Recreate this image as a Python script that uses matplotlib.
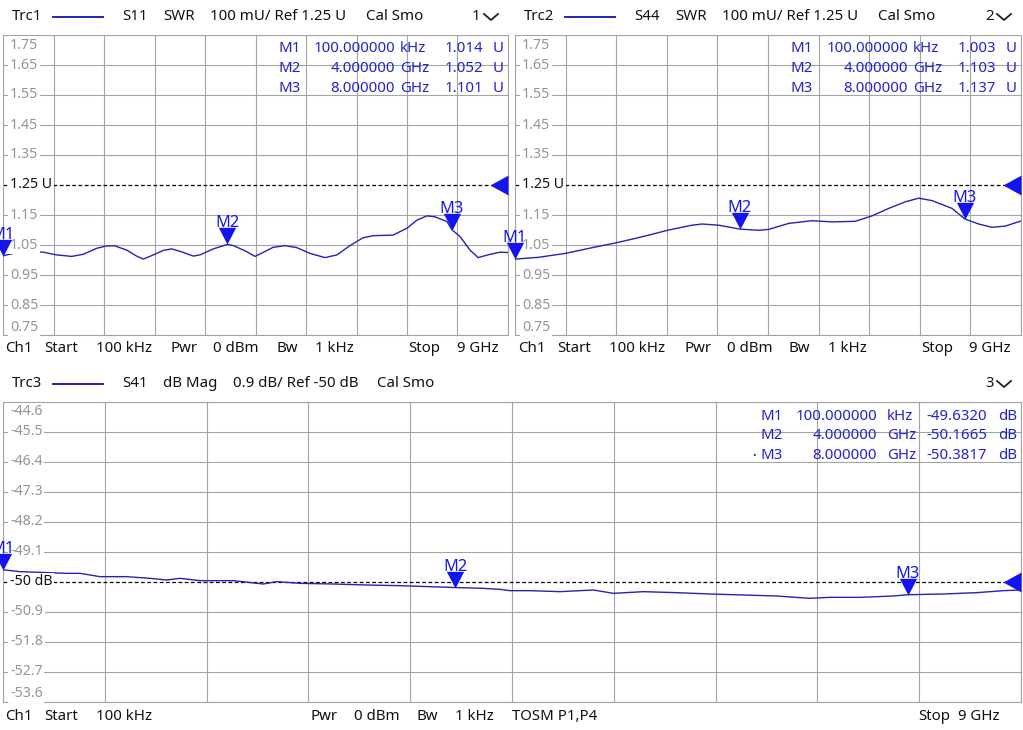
import matplotlib
matplotlib.use("Agg")
import matplotlib.pyplot as plt
from matplotlib.lines import Line2D

W, H = 1023, 730
plt.rcParams["font.family"] = ["Noto Sans", "DejaVu Sans"]

TRACE = "#2323b4"
MARK = "#1414f0"
MTXT = "#2222cc"
GRID = "#a4a4a4"
TICK = "#959595"

F_START, F_STOP = 0.0001, 9.0  # GHz

# S11 SWR (Trc1)
s11_f = [0.0001, 0.184, 0.481, 0.719, 0.957, 1.224, 1.432, 1.669, 1.848, 1.996,
         2.204, 2.382, 2.501, 2.679, 2.857, 3.006, 3.185, 3.392, 3.511, 3.748,
         4.0, 4.105, 4.343, 4.490, 4.634, 4.812, 5.026, 5.240, 5.471, 5.739,
         5.952, 6.184, 6.416, 6.594, 6.950, 7.200, 7.378, 7.556, 7.699, 7.913,
         8.0, 8.145, 8.323, 8.467, 8.681, 8.859, 9.0]
s11_swr = [1.014, 1.022, 1.028, 1.026, 1.017, 1.012, 1.019, 1.039, 1.047, 1.047,
           1.033, 1.013, 1.003, 1.017, 1.032, 1.037, 1.027, 1.013, 1.017, 1.037,
           1.052, 1.048, 1.028, 1.012, 1.025, 1.042, 1.048, 1.041, 1.022, 1.008,
           1.017, 1.048, 1.074, 1.081, 1.083, 1.106, 1.133, 1.147, 1.144, 1.128,
           1.101, 1.078, 1.033, 1.008, 1.019, 1.026, 1.025]

# S44 SWR (Trc2)
s44_f = [0.0001, 0.421, 0.895, 1.370, 1.844, 2.318, 2.733, 3.148, 3.326, 3.623,
         4.0, 4.334, 4.512, 4.868, 5.283, 5.638, 6.053, 6.350, 6.647, 6.943,
         7.180, 7.417, 7.773, 8.0, 8.247, 8.484, 8.721, 9.0]
s44_swr = [1.003, 1.009, 1.022, 1.041, 1.059, 1.080, 1.100, 1.116, 1.120, 1.116,
           1.103, 1.099, 1.102, 1.122, 1.131, 1.127, 1.129, 1.147, 1.172, 1.194,
           1.206, 1.198, 1.172, 1.137, 1.120, 1.109, 1.113, 1.130]

# S41 dB Mag (Trc3)
s41_f = [0.0001, 0.150, 0.327, 0.563, 0.681, 0.858, 1.094, 1.300, 1.447, 1.565,
         1.742, 2.036, 2.301, 2.420, 2.626, 2.920, 3.215, 3.510, 4.0, 4.246,
         4.394, 4.482, 4.659, 4.924, 5.219, 5.396, 5.661, 5.956, 6.251, 6.545,
         6.840, 7.135, 7.311, 7.577, 7.871, 8.0, 8.313, 8.608, 8.844, 9.0]
s41_db = [-49.632, -49.69, -49.71, -49.74, -49.74, -49.84, -49.84, -49.89, -49.94, -49.89,
          -49.96, -49.96, -50.06, -49.99, -50.04, -50.06, -50.09, -50.11, -50.1665, -50.19,
          -50.22, -50.26, -50.26, -50.29, -50.24, -50.34, -50.29, -50.32, -50.36, -50.39,
          -50.42, -50.49, -50.46, -50.46, -50.42, -50.3817, -50.36, -50.32, -50.26, -50.24]

# marker tables
mk_names = ["M1", "M2", "M3"]
mk_freq = [F_START, 4.0, 8.0]
mk_freq_txt = ["100.000000", "4.000000", "8.000000"]
mk_unit = ["kHz", "GHz", "GHz"]
s11_mk = [1.014, 1.052, 1.101]
s44_mk = [1.003, 1.103, 1.137]
s41_mk = [-49.6320, -50.1665, -50.3817]

fig = plt.figure(figsize=(W / 100, H / 100), dpi=100)
fig.patch.set_facecolor("white")

TRI_DOWN = [(-0.52, 1.0), (0.52, 1.0), (0.0, 0.0)]
TRI_LEFT = [(-1.0, 0.0), (0.0, -0.55), (0.0, 0.55)]
FS = 10.8      # header / footer
FS_TAB = 10.8  # marker readout
FS_Y = 10.2    # y labels


def fx(x):
    return x / W


def fy(y):
    return 1 - y / H


def ftext(x, y, s, ha="left", color="#111111", size=FS, **kw):
    fig.text(fx(x), fy(y), s, ha=ha, va="center", color=color, fontsize=size, **kw)


def chevron(x, y):
    fig.add_artist(Line2D([fx(x), fx(x + 7), fx(x + 14)], [fy(y - 3), fy(y + 3), fy(y - 3)],
                          color="#222222", lw=1.3, transform=fig.transFigure))


def header(x0, y, trc, items, num, numx):
    ftext(x0 + 9, y, trc)
    fig.add_artist(Line2D([fx(x0 + 50), fx(x0 + 100)], [fy(y), fy(y)],
                          color=TRACE, lw=1.4, transform=fig.transFigure))
    for s, x in items:
        ftext(x, y, s)
    ftext(numx, y, num)
    chevron(numx + 12, y)


def footer(y, items):
    for s, x in items:
        ftext(x, y, s)


def panel(l, t, r, b, f, v, ytop, ydiv, ref_idx, ref_lbl, fmt, mk_vals, mk_val_txt,
          unit, cols, active=None):
    ax = fig.add_axes([fx(l), fy(b), fx(r - l), (b - t) / H])
    ylev = [ytop - i * ydiv for i in range(11)]
    ax.set_xlim(F_START, F_STOP)
    ax.set_ylim(ylev[-1], ylev[0])
    ax.set_xticks([F_START + i * (F_STOP - F_START) / 10 for i in range(11)])
    ax.set_yticks([y for i, y in enumerate(ylev) if i != ref_idx])
    ax.grid(True, color=GRID, lw=0.8)
    ax.tick_params(length=0, labelbottom=False, labelleft=False)
    for sp in ax.spines.values():
        sp.set_color(GRID)
        sp.set_linewidth(0.8)

    ax.plot(f, v, color=TRACE, lw=1.0, zorder=3)
    ref = ylev[ref_idx]
    ax.axhline(ref, color="black", lw=0.9, ls=(0, (3, 2)), zorder=2)
    ax.plot([F_STOP], [ref], marker=TRI_LEFT, ms=26, color=MARK, mec="none",
            clip_on=False, zorder=6)

    bb = dict(boxstyle="square,pad=0.12", fc="white", ec="none")
    for i, yv in enumerate(ylev):
        if i == 0:
            off = -10
        elif i == 10:
            off = 8
        else:
            off = 0
        txt = ref_lbl if i == ref_idx else fmt.format(yv)
        col = "#111111" if i == ref_idx else TICK
        ax.annotate(txt, xy=(0, yv), xycoords=("axes fraction", "data"),
                    xytext=(7, off), textcoords="offset pixels", ha="left", va="center",
                    color=col, fontsize=FS_Y, bbox=bb, zorder=4)

    for name, fq, mv in zip(mk_names, mk_freq, mk_vals):
        ax.plot([fq], [mv], marker=TRI_DOWN, ms=24, color=MARK, mec="none",
                clip_on=False, zorder=6)
        ax.annotate(name, xy=(fq, mv), xytext=(0, 17), textcoords="offset pixels",
                    ha="center", va="baseline", color=MARK, fontsize=11.8,
                    fontweight="bold" if name == active else "normal",
                    annotation_clip=False, zorder=7)

    # marker readout table
    c_name, c_freq, c_unit, c_val, c_vu = cols
    for k, name in enumerate(mk_names):
        yy = t + 14 + k * 19.5
        if name == active:
            ftext(r + c_name - 8, yy, "•", color=MTXT, size=7)
        ftext(r + c_name, yy, name, color=MTXT, size=FS_TAB)
        ftext(r + c_freq, yy, mk_freq_txt[k], ha="right", color=MTXT, size=FS_TAB)
        ftext(r + c_unit, yy, mk_unit[k], color=MTXT, size=FS_TAB)
        ftext(r + c_val, yy, mk_val_txt[k], ha="right", color=MTXT, size=FS_TAB)
        ftext(r + c_vu, yy, unit, color=MTXT, size=FS_TAB)
    return ax


swr_cols = (-230, -113, -108, -25, -15)
panel(3, 35, 508, 335, s11_f, s11_swr, 1.75, 0.1, 5, "1.25 U", "{:.2f}",
      s11_mk, ["{:.3f}".format(x) for x in s11_mk], "U", swr_cols)
panel(515, 35, 1021, 335, s44_f, s44_swr, 1.75, 0.1, 5, "1.25 U", "{:.2f}",
      s44_mk, ["{:.3f}".format(x) for x in s44_mk], "U", swr_cols)
panel(3, 402, 1021, 702, s41_f, s41_db, -44.6, 0.9, 6, "-50 dB", "{:.1f}",
      s41_mk, ["{:.4f}".format(x) for x in s41_mk], "dB",
      (-261, -144, -134, -34, -23), active="M3")

header(3, 17, "Trc1", [("S11", 122), ("SWR", 163), ("100 mU/ Ref 1.25 U", 210),
                       ("Cal Smo", 366)], "1", 472)
header(515, 17, "Trc2", [("S44", 634), ("SWR", 675), ("100 mU/ Ref 1.25 U", 722),
                         ("Cal Smo", 878)], "2", 985)
header(3, 384, "Trc3", [("S41", 122), ("dB Mag", 163), ("0.9 dB/ Ref -50 dB", 233),
                        ("Cal Smo", 377)], "3", 985)

footer(349, [("Ch1", 5), ("Start", 44), ("100 kHz", 96), ("Pwr", 170), ("0 dBm", 213),
             ("Bw", 276), ("1 kHz", 315), ("Stop", 408), ("9 GHz", 457)])
footer(349, [("Ch1", 518), ("Start", 557), ("100 kHz", 609), ("Pwr", 684), ("0 dBm", 727),
             ("Bw", 789), ("1 kHz", 828), ("Stop", 921), ("9 GHz", 969)])
footer(716, [("Ch1", 5), ("Start", 44), ("100 kHz", 96), ("Pwr", 310), ("0 dBm", 354),
             ("Bw", 416), ("1 kHz", 455), ("TOSM P1,P4", 512), ("Stop", 918), ("9 GHz", 958)])

fig.savefig("out.png", dpi=100, facecolor="white")
